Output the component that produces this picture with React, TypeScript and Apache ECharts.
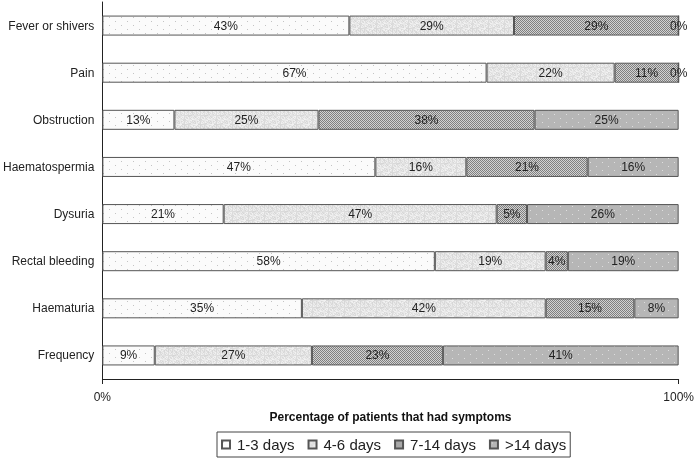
import React, { useEffect, useRef } from "react";
import * as echarts from "echarts";

const categories = [
  "Fever or shivers",
  "Pain",
  "Obstruction",
  "Haematospermia",
  "Dysuria",
  "Rectal bleeding",
  "Haematuria",
  "Frequency",
];
const seriesNames = ["1-3 days", "4-6 days", "7-14 days", ">14 days"];
const days1to3 = [42.86, 66.67, 12.5, 47.37, 21.05, 57.69, 34.62, 9.09];
const days4to6 = [28.57, 22.22, 25, 15.79, 47.37, 19.23, 42.31, 27.27];
const days7to14 = [28.57, 11.11, 37.5, 21.05, 5.26, 3.85, 15.38, 22.73];
const daysOver14 = [0, 0, 25, 15.79, 26.32, 19.23, 7.69, 40.91];
const xTicks = [0, 100];

function makeTile(w: number, h: number, draw: (ctx: CanvasRenderingContext2D) => void) {
  const c = document.createElement("canvas");
  c.width = w;
  c.height = h;
  const ctx = c.getContext("2d")!;
  draw(ctx);
  return c;
}

function patterns() {
  const p1 = makeTile(12, 8, (ctx) => {
    ctx.fillStyle = "#fbfbfb";
    ctx.fillRect(0, 0, 12, 8);
    ctx.fillStyle = "#c4c4c4";
    ctx.fillRect(1, 1, 1, 1);
    ctx.fillRect(7, 5, 1, 1);
  });
  const p2 = makeTile(16, 16, (ctx) => {
    for (let i = 0; i < 16; i++) {
      for (let j = 0; j < 16; j++) {
        const v = 228 + (((i * 37 + j * 91 + ((i * j) % 13) * 7) % 29) - 14);
        ctx.fillStyle = `rgb(${v},${v},${v})`;
        ctx.fillRect(i, j, 1, 1);
      }
    }
  });
  const p3 = makeTile(2, 2, (ctx) => {
    ctx.fillStyle = "#d2d2d2";
    ctx.fillRect(0, 0, 2, 2);
    ctx.fillStyle = "#808080";
    ctx.fillRect(0, 0, 1, 1);
    ctx.fillRect(1, 1, 1, 1);
  });
  const p4 = makeTile(12, 8, (ctx) => {
    ctx.fillStyle = "#b6b6b6";
    ctx.fillRect(0, 0, 12, 8);
    ctx.fillStyle = "#dedede";
    ctx.fillRect(2, 2, 1, 1);
    ctx.fillRect(8, 6, 1, 1);
  });
  return [p1, p2, p3, p4].map((img) => ({ image: img, repeat: "repeat" }));
}

export default function App() {
  const ref = useRef<HTMLDivElement>(null);
  useEffect(() => {
    if (!ref.current) return;
    const chart = echarts.init(ref.current, undefined, { renderer: "svg" });
    const pats = patterns();
    const data = [days1to3, days4to6, days7to14, daysOver14];
    const font = "Liberation Sans, Arial, sans-serif";
    chart.setOption({
      animation: false,
      textStyle: { fontFamily: font },
      grid: { left: 101, right: 14, top: 2, bottom: 83, containLabel: false },
      legend: {
        data: seriesNames,
        top: 432,
        left: 217,
        borderColor: "#444",
        borderWidth: 1,
        borderRadius: 0,
        padding: [5, 4, 5, 4],
        itemGap: 13,
        itemWidth: 8,
        itemHeight: 8,
        icon: "rect",
        textStyle: { fontSize: 15, color: "#222", fontFamily: font, padding: [0, 0, 0, 2] },
      },
      xAxis: {
        type: "value",
        min: xTicks[0],
        max: xTicks[1],
        interval: 100,
        axisLine: { show: true, lineStyle: { color: "#222", width: 1 } },
        axisTick: { show: true, length: 5, lineStyle: { color: "#222" } },
        splitLine: { show: false },
        axisLabel: { formatter: "{value}%", fontSize: 12, color: "#222", margin: 12 },
        name: "Percentage of patients that had symptoms",
        nameLocation: "middle",
        nameGap: 32,
        nameTextStyle: { fontSize: 12, fontWeight: "bold", color: "#111" },
      },
      yAxis: {
        type: "category",
        inverse: true,
        data: categories,
        axisLine: { show: true, lineStyle: { color: "#222", width: 1 } },
        axisTick: { show: false },
        axisLabel: { fontSize: 12, color: "#222", margin: 8 },
      },
      series: seriesNames.map((name, i) => ({
        name,
        type: "bar",
        stack: "total",
        barWidth: 20,
        data: data[i],
        itemStyle: { color: pats[i], borderColor: "#555", borderWidth: 1 },
        label: {
          show: true,
          position: "inside",
          fontSize: 12,
          color: "#222",
          formatter: (p: any) => Math.round(p.value) + "%",
        },
      })),
    });
    return () => chart.dispose();
  }, []);
  return (
    <div
      ref={ref}
      style={{ position: "fixed", left: 0, top: 0, width: 697, height: 462 }}
    />
  );
}
